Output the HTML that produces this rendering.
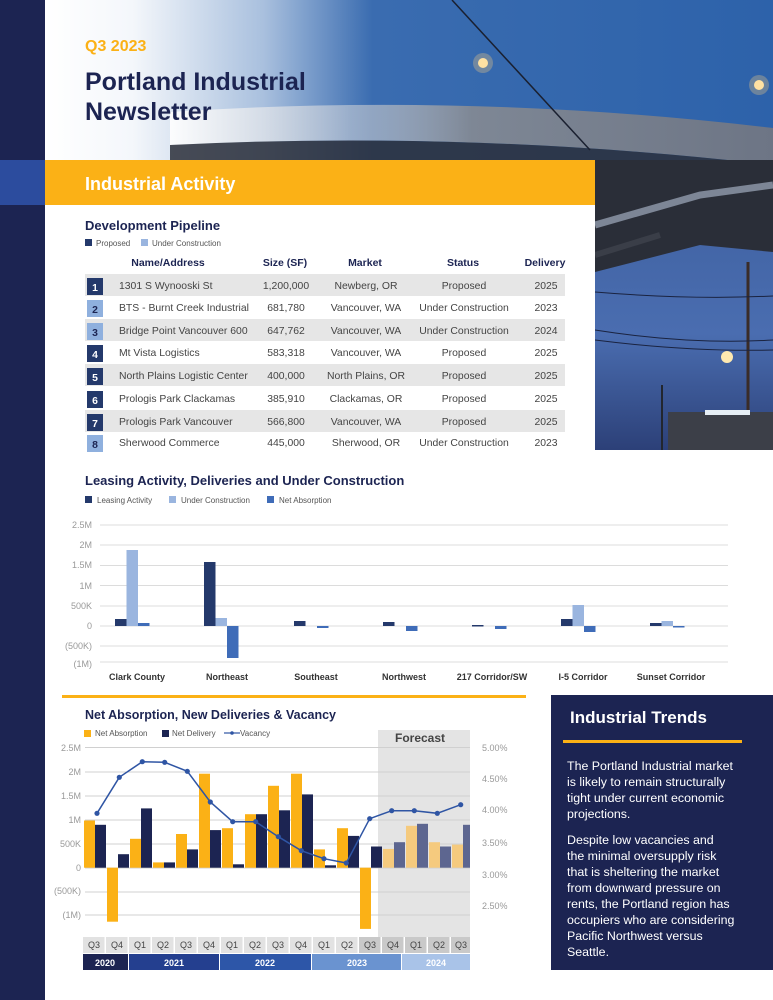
<!DOCTYPE html>
<html><head><meta charset="utf-8">
<style>
*{margin:0;padding:0;box-sizing:border-box}
body{width:773px;height:1000px;position:relative;overflow:hidden;background:#fff;font-family:"Liberation Sans",sans-serif}
.a{position:absolute}
</style></head><body>
<svg class="a" style="left:0;top:0" width="773" height="1000" viewBox="0 0 773 1000" font-family="Liberation Sans, sans-serif">
<defs>
<linearGradient id="sky" x1="0" x2="1" y1="0" y2="0">
<stop offset="0" stop-color="#ffffff"/><stop offset="0.12" stop-color="#f4f7fb"/><stop offset="0.3" stop-color="#a9c0de"/><stop offset="0.45" stop-color="#3a6cb0"/><stop offset="1" stop-color="#2d62aa"/></linearGradient>
<linearGradient id="br" x1="0" x2="1"><stop offset="0" stop-color="#fff" stop-opacity="0.9"/><stop offset="0.3" stop-color="#c9ced6" stop-opacity="0.6"/><stop offset="0.5" stop-color="#7e8795"/><stop offset="1" stop-color="#6d7585"/></linearGradient>
<linearGradient id="sky2" x1="0" x2="0" y1="0" y2="1"><stop offset="0" stop-color="#3d5f9e"/><stop offset="0.6" stop-color="#4a6db0"/><stop offset="1" stop-color="#2c4078"/></linearGradient>
</defs>
<rect x="45" y="0" width="728" height="205" fill="url(#sky)"/>
<path d="M170,112 Q470,92 773,128 L773,165 Q470,130 170,145 Z" fill="url(#br)"/>
<path d="M170,145 Q470,130 773,165 L773,205 L170,205 Z" fill="#2b2f3a" opacity="0.85"/>
<line x1="452" y1="0" x2="590" y2="150" stroke="#1a2030" stroke-width="1.5"/>
<circle cx="483" cy="63" r="5" fill="#ffe9b0"/><circle cx="483" cy="63" r="10" fill="#ffd080" opacity="0.3"/>
<circle cx="759" cy="85" r="5" fill="#ffe9b0"/><circle cx="759" cy="85" r="10" fill="#ffd080" opacity="0.3"/>
<rect x="595" y="160" width="178" height="290" fill="url(#sky2)"/>
<path d="M595,160 L773,160 L773,252 L700,245 L595,272 Z" fill="#2a2e38"/>
<path d="M595,225 L700,195 L773,185" stroke="#7d8696" stroke-width="7" fill="none"/>
<path d="M595,255 L660,235" stroke="#3a3e48" stroke-width="6"/>
<line x1="748" y1="262" x2="748" y2="450" stroke="#3a2c28" stroke-width="3"/>
<line x1="662" y1="385" x2="662" y2="450" stroke="#22262e" stroke-width="2"/>
<path d="M595,292 Q690,300 773,296 M595,330 Q690,345 773,340 M595,340 Q690,352 773,350" stroke="#1a2340" stroke-width="1" fill="none"/>
<rect x="668" y="412" width="105" height="38" fill="#3c3f48"/><rect x="705" y="410" width="45" height="5" fill="#e6eef5"/>
<circle cx="727" cy="357" r="6" fill="#ffe9b0"/>
<rect x="0" y="0" width="45" height="1000" fill="#1c2452"/>
<rect x="0" y="160" width="45" height="45" fill="#2c4c9e"/>
<rect x="45" y="160" width="550" height="45" fill="#fbb116"/>
<rect x="45" y="205" width="550" height="245" fill="#fff"/>
<text x="85" y="51" font-size="16" font-weight="bold" fill="#fbb116">Q3 2023</text>
<text x="85" y="90" font-size="25" font-weight="bold" fill="#1c2452">Portland Industrial</text>
<text x="85" y="120" font-size="25" font-weight="bold" fill="#1c2452">Newsletter</text>
<text x="85" y="190" font-size="18" font-weight="bold" fill="#fff">Industrial Activity</text>
<text x="85" y="230" font-size="13" font-weight="bold" fill="#1c2452">Development Pipeline</text>
<rect x="85" y="239" width="7" height="7" fill="#24396b"/><text x="96" y="246" font-size="8" fill="#555">Proposed</text>
<rect x="141" y="239" width="7" height="7" fill="#9ab5df"/><text x="152" y="246" font-size="8" fill="#555">Under Construction</text>
<g font-size="10.5" font-weight="bold" fill="#1c2452" text-anchor="middle">
<text x="168" y="266">Name/Address</text><text x="285" y="266">Size (SF)</text><text x="365" y="266">Market</text><text x="463" y="266">Status</text><text x="545" y="266">Delivery</text></g>
<g fill="#e6e6e6"><rect x="85" y="274" width="480" height="22"/><rect x="85" y="319" width="480" height="22"/><rect x="85" y="364" width="480" height="22"/><rect x="85" y="410" width="480" height="22"/></g>
<g font-size="10.4" fill="#444">
<g transform="translate(0,289)"><rect x="87" y="-11" width="16" height="17" fill="#24396b"/><text x="95" y="2" fill="#fff" text-anchor="middle" font-weight="bold">1</text><text x="119" y="0">1301 S Wynooski St</text><text x="286" y="0" text-anchor="middle">1,200,000</text><text x="366" y="0" text-anchor="middle">Newberg, OR</text><text x="464" y="0" text-anchor="middle">Proposed</text><text x="546" y="0" text-anchor="middle">2025</text></g>
<g transform="translate(0,311)"><rect x="87" y="-11" width="16" height="17" fill="#8fb0de"/><text x="95" y="2" fill="#1c2452" text-anchor="middle" font-weight="bold">2</text><text x="119" y="0">BTS - Burnt Creek Industrial</text><text x="286" y="0" text-anchor="middle">681,780</text><text x="366" y="0" text-anchor="middle">Vancouver, WA</text><text x="464" y="0" text-anchor="middle">Under Construction</text><text x="546" y="0" text-anchor="middle">2023</text></g>
<g transform="translate(0,334)"><rect x="87" y="-11" width="16" height="17" fill="#8fb0de"/><text x="95" y="2" fill="#1c2452" text-anchor="middle" font-weight="bold">3</text><text x="119" y="0">Bridge Point Vancouver 600</text><text x="286" y="0" text-anchor="middle">647,762</text><text x="366" y="0" text-anchor="middle">Vancouver, WA</text><text x="464" y="0" text-anchor="middle">Under Construction</text><text x="546" y="0" text-anchor="middle">2024</text></g>
<g transform="translate(0,356)"><rect x="87" y="-11" width="16" height="17" fill="#24396b"/><text x="95" y="2" fill="#fff" text-anchor="middle" font-weight="bold">4</text><text x="119" y="0">Mt Vista Logistics</text><text x="286" y="0" text-anchor="middle">583,318</text><text x="366" y="0" text-anchor="middle">Vancouver, WA</text><text x="464" y="0" text-anchor="middle">Proposed</text><text x="546" y="0" text-anchor="middle">2025</text></g>
<g transform="translate(0,379)"><rect x="87" y="-11" width="16" height="17" fill="#24396b"/><text x="95" y="2" fill="#fff" text-anchor="middle" font-weight="bold">5</text><text x="119" y="0">North Plains Logistic Center</text><text x="286" y="0" text-anchor="middle">400,000</text><text x="366" y="0" text-anchor="middle">North Plains, OR</text><text x="464" y="0" text-anchor="middle">Proposed</text><text x="546" y="0" text-anchor="middle">2025</text></g>
<g transform="translate(0,402)"><rect x="87" y="-11" width="16" height="17" fill="#24396b"/><text x="95" y="2" fill="#fff" text-anchor="middle" font-weight="bold">6</text><text x="119" y="0">Prologis Park Clackamas</text><text x="286" y="0" text-anchor="middle">385,910</text><text x="366" y="0" text-anchor="middle">Clackamas, OR</text><text x="464" y="0" text-anchor="middle">Proposed</text><text x="546" y="0" text-anchor="middle">2025</text></g>
<g transform="translate(0,425)"><rect x="87" y="-11" width="16" height="17" fill="#24396b"/><text x="95" y="2" fill="#fff" text-anchor="middle" font-weight="bold">7</text><text x="119" y="0">Prologis Park Vancouver</text><text x="286" y="0" text-anchor="middle">566,800</text><text x="366" y="0" text-anchor="middle">Vancouver, WA</text><text x="464" y="0" text-anchor="middle">Proposed</text><text x="546" y="0" text-anchor="middle">2025</text></g>
<g transform="translate(0,446)"><rect x="87" y="-11" width="16" height="17" fill="#8fb0de"/><text x="95" y="2" fill="#1c2452" text-anchor="middle" font-weight="bold">8</text><text x="119" y="0">Sherwood Commerce</text><text x="286" y="0" text-anchor="middle">445,000</text><text x="366" y="0" text-anchor="middle">Sherwood, OR</text><text x="464" y="0" text-anchor="middle">Under Construction</text><text x="546" y="0" text-anchor="middle">2023</text></g>
</g>
<text x="85" y="485" font-size="13" font-weight="bold" fill="#1c2452">Leasing Activity, Deliveries and Under Construction</text>
<rect x="85" y="496" width="7" height="7" fill="#24396b"/><text x="97" y="503" font-size="8" fill="#555">Leasing Activity</text>
<rect x="169" y="496" width="7" height="7" fill="#9ab5df"/><text x="181" y="503" font-size="8" fill="#555">Under Construction</text>
<rect x="267" y="496" width="7" height="7" fill="#3f6cb8"/><text x="279" y="503" font-size="8" fill="#555">Net Absorption</text>
<g stroke="#dcdcdc" stroke-width="1"><line x1="100" x2="728" y1="525" y2="525"/><line x1="100" x2="728" y1="545" y2="545"/><line x1="100" x2="728" y1="565.5" y2="565.5"/><line x1="100" x2="728" y1="585.5" y2="585.5"/><line x1="100" x2="728" y1="606" y2="606"/><line x1="100" x2="728" y1="626" y2="626"/><line x1="100" x2="728" y1="646" y2="646"/><line x1="100" x2="728" y1="662" y2="662"/></g>
<g font-size="9" fill="#999" text-anchor="end"><text x="92" y="528">2.5M</text><text x="92" y="548">2M</text><text x="92" y="568">1.5M</text><text x="92" y="589">1M</text><text x="92" y="609">500K</text><text x="92" y="629">0</text><text x="92" y="649">(500K)</text><text x="92" y="667">(1M)</text></g>
<g fill="#24396b">
<rect x="115" y="619" width="11.5" height="7"/><rect x="204" y="562" width="11.5" height="64"/><rect x="294" y="621" width="11.5" height="5"/><rect x="383" y="622" width="11.5" height="4"/><rect x="472" y="625" width="11.5" height="1.5"/><rect x="561" y="619" width="11.5" height="7"/><rect x="650" y="623" width="11.5" height="3"/></g>
<g fill="#9ab5df"><rect x="126.5" y="550" width="11.5" height="76"/><rect x="215.5" y="618" width="11.5" height="8"/><rect x="572.5" y="605" width="11.5" height="21"/><rect x="661.5" y="621" width="11.5" height="5"/></g>
<g fill="#3f6cb8"><rect x="138" y="623" width="11.5" height="3"/><rect x="227" y="626" width="11.5" height="32"/><rect x="317" y="626" width="11.5" height="2"/><rect x="406" y="626" width="11.5" height="5"/><rect x="495" y="626" width="11.5" height="3"/><rect x="584" y="626" width="11.5" height="6"/><rect x="673" y="626" width="11.5" height="1.5"/></g>
<g font-size="9" font-weight="bold" fill="#333" text-anchor="middle"><text x="137" y="680">Clark County</text><text x="227" y="680">Northeast</text><text x="316" y="680">Southeast</text><text x="404" y="680">Northwest</text><text x="492" y="680">217 Corridor/SW</text><text x="583" y="680">I-5 Corridor</text><text x="671" y="680">Sunset Corridor</text></g>
<rect x="62" y="695" width="464" height="3" fill="#fbb116"/>
<text x="85" y="719" font-size="12.5" font-weight="bold" fill="#1c2452">Net Absorption, New Deliveries &amp; Vacancy</text>
<rect x="84" y="730" width="7" height="7" fill="#fbb116"/><text x="95" y="736" font-size="8" fill="#555">Net Absorption</text>
<rect x="162" y="730" width="7" height="7" fill="#1c2452"/><text x="172" y="736" font-size="8" fill="#555">Net Delivery</text>
<line x1="224" x2="240" y1="733" y2="733" stroke="#2f55a4" stroke-width="1.2"/><circle cx="232" cy="733" r="1.8" fill="#2f55a4"/><text x="240" y="736" font-size="8" fill="#555">Vacancy</text>
<rect x="378" y="730" width="92" height="207" fill="#e4e4e4"/>
<text x="420" y="742" font-size="12" font-weight="bold" fill="#444" text-anchor="middle">Forecast</text>
<g stroke="#d0d0d0" stroke-width="1"><line x1="85" x2="470" y1="747.5" y2="747.5"/><line x1="85" x2="470" y1="772" y2="772"/><line x1="85" x2="470" y1="796" y2="796"/><line x1="85" x2="470" y1="820" y2="820"/><line x1="85" x2="470" y1="844" y2="844"/><line x1="85" x2="470" y1="868" y2="868"/><line x1="85" x2="470" y1="892" y2="892"/><line x1="85" x2="470" y1="915" y2="915"/></g>
<g font-size="9" fill="#999" text-anchor="end"><text x="81" y="751">2.5M</text><text x="81" y="775">2M</text><text x="81" y="799">1.5M</text><text x="81" y="823">1M</text><text x="81" y="847">500K</text><text x="81" y="871">0</text><text x="81" y="894">(500K)</text><text x="81" y="918">(1M)</text></g>
<g font-size="9" fill="#999"><text x="482" y="751">5.00%</text><text x="482" y="782">4.50%</text><text x="482" y="813">4.00%</text><text x="482" y="846">3.50%</text><text x="482" y="878">3.00%</text><text x="482" y="909">2.50%</text></g>
<g fill="#fbb116">
<rect x="84" y="820.5" width="11" height="47.2"/><rect x="107" y="867.7" width="11" height="54"/><rect x="130" y="838.8" width="11" height="28.9"/><rect x="153" y="862.4" width="11" height="5.3"/><rect x="176" y="834" width="11" height="33.7"/><rect x="199" y="773.7" width="11" height="94"/><rect x="222" y="828.2" width="11" height="39.5"/><rect x="245" y="814.2" width="11" height="53.5"/><rect x="268" y="785.8" width="11" height="81.9"/><rect x="291" y="773.7" width="11" height="94"/><rect x="314" y="849.4" width="11" height="18.3"/><rect x="337" y="828.2" width="11" height="39.5"/><rect x="360" y="867.7" width="11" height="61.2"/></g>
<g fill="#f5ca7e"><rect x="383" y="848.9" width="11" height="18.8"/><rect x="406" y="825.8" width="11" height="41.9"/><rect x="429" y="842.2" width="11" height="25.5"/><rect x="452" y="844.6" width="11" height="23.1"/></g>
<g fill="#1c2452">
<rect x="95" y="824.8" width="11" height="42.9"/><rect x="118" y="854.2" width="11" height="13.5"/><rect x="141" y="808.4" width="11" height="59.3"/><rect x="164" y="862.4" width="11" height="5.3"/><rect x="187" y="849.4" width="11" height="18.3"/><rect x="210" y="830.1" width="11" height="37.6"/><rect x="233" y="864.3" width="11" height="3.4"/><rect x="256" y="814.2" width="11" height="53.5"/><rect x="279" y="810.3" width="11" height="57.4"/><rect x="302" y="794.4" width="11" height="73.3"/><rect x="325" y="865.3" width="11" height="2.4"/><rect x="348" y="835.9" width="11" height="31.8"/><rect x="371" y="846.5" width="11" height="21.2"/></g>
<g fill="#5d6690"><rect x="394" y="842.2" width="11" height="25.5"/><rect x="417" y="823.8" width="11" height="43.9"/><rect x="440" y="846.5" width="11" height="21.2"/><rect x="463" y="824.8" width="7" height="42.9"/></g>
<polyline fill="none" stroke="#2f55a4" stroke-width="1.5" points="97,813.3 119.3,777.3 142.3,761.7 164.7,762.3 187.3,771.3 210.3,802 232.7,821.7 255.7,821.7 278.3,836.7 301.3,850.7 324,858.7 346.3,863 369.7,818.7 391.7,810.7 414.3,810.7 437.3,813.3 460.7,804.7"/>
<g fill="#2f55a4"><circle cx="97" cy="813.3" r="2.6"/><circle cx="119.3" cy="777.3" r="2.6"/><circle cx="142.3" cy="761.7" r="2.6"/><circle cx="164.7" cy="762.3" r="2.6"/><circle cx="187.3" cy="771.3" r="2.6"/><circle cx="210.3" cy="802" r="2.6"/><circle cx="232.7" cy="821.7" r="2.6"/><circle cx="255.7" cy="821.7" r="2.6"/><circle cx="278.3" cy="836.7" r="2.6"/><circle cx="301.3" cy="850.7" r="2.6"/><circle cx="324" cy="858.7" r="2.6"/><circle cx="346.3" cy="863" r="2.6"/><circle cx="369.7" cy="818.7" r="2.6"/><circle cx="391.7" cy="810.7" r="2.6"/><circle cx="414.3" cy="810.7" r="2.6"/><circle cx="437.3" cy="813.3" r="2.6"/><circle cx="460.7" cy="804.7" r="2.6"/></g>
<g fill="#e2e2e2"><rect x="83" y="937" width="21.5" height="16"/><rect x="106" y="937" width="21.5" height="16"/><rect x="129" y="937" width="21.5" height="16"/><rect x="152" y="937" width="21.5" height="16"/><rect x="175" y="937" width="21.5" height="16"/><rect x="198" y="937" width="21.5" height="16"/><rect x="221" y="937" width="21.5" height="16"/><rect x="244" y="937" width="21.5" height="16"/><rect x="267" y="937" width="21.5" height="16"/><rect x="290" y="937" width="21.5" height="16"/><rect x="313" y="937" width="21.5" height="16"/><rect x="336" y="937" width="21.5" height="16"/></g>
<g fill="#c9c9c9"><rect x="359" y="937" width="21.5" height="16"/><rect x="382" y="937" width="21.5" height="16"/><rect x="405" y="937" width="21.5" height="16"/><rect x="428" y="937" width="21.5" height="16"/><rect x="451" y="937" width="19" height="16"/></g>
<g font-size="9" fill="#444" text-anchor="middle"><text x="94" y="948">Q3</text><text x="117" y="948">Q4</text><text x="140" y="948">Q1</text><text x="163" y="948">Q2</text><text x="186" y="948">Q3</text><text x="209" y="948">Q4</text><text x="232" y="948">Q1</text><text x="255" y="948">Q2</text><text x="278" y="948">Q3</text><text x="301" y="948">Q4</text><text x="324" y="948">Q1</text><text x="347" y="948">Q2</text><text x="370" y="948">Q3</text><text x="393" y="948">Q4</text><text x="416" y="948">Q1</text><text x="439" y="948">Q2</text><text x="461" y="948">Q3</text></g>
<rect x="83" y="954" width="45" height="16" fill="#1c2452"/><rect x="129" y="954" width="90" height="16" fill="#243f8f"/><rect x="220" y="954" width="91" height="16" fill="#2d56a8"/><rect x="312" y="954" width="89" height="16" fill="#6a93d0"/><rect x="402" y="954" width="68" height="16" fill="#a9c3e8"/>
<g font-size="9" font-weight="bold" fill="#fff" text-anchor="middle"><text x="105" y="966">2020</text><text x="174" y="966">2021</text><text x="265" y="966">2022</text><text x="357" y="966">2023</text><text x="436" y="966">2024</text></g>
<rect x="551" y="695" width="222" height="275" fill="#1c2452"/>
<text x="570" y="723" font-size="17" font-weight="bold" fill="#fff">Industrial Trends</text>
<rect x="563" y="740" width="179" height="3" fill="#fbb116"/>
<g font-size="12.4" fill="#fff"><text x="567" y="770">The Portland Industrial market</text><text x="567" y="786">is likely to remain structurally</text><text x="567" y="802">tight under current economic</text><text x="567" y="818">projections.</text>
<text x="567" y="844">Despite low vacancies and</text><text x="567" y="860">the minimal oversupply risk</text><text x="567" y="876">that is sheltering the market</text><text x="567" y="892">from downward pressure on</text><text x="567" y="908">rents, the Portland region has</text><text x="567" y="924">occupiers who are considering</text><text x="567" y="940">Pacific Northwest versus</text><text x="567" y="956">Seattle.</text></g>
</svg>
</body></html>
